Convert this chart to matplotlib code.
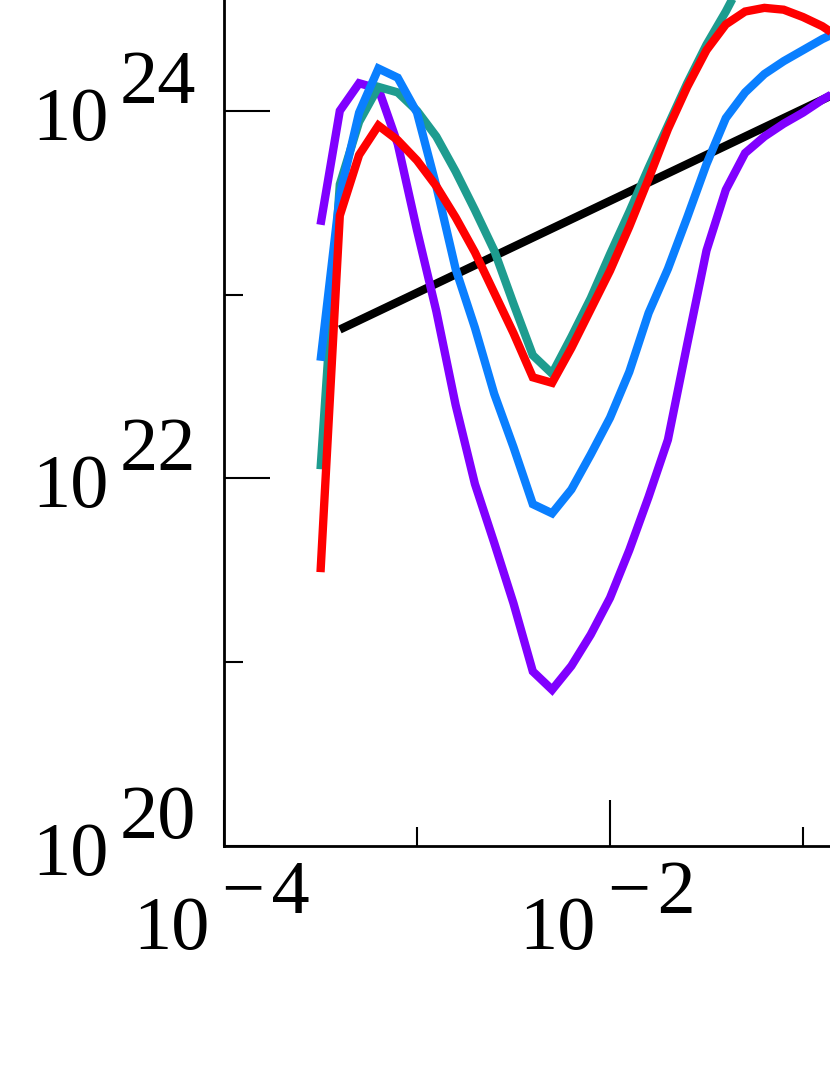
import numpy as np
import matplotlib.pyplot as plt

# -------------------------
# Datos (exponentes log10)
# -------------------------
log_x = [-3.5, -3.4, -3.3, -3.2, -3.1, -3.0, -2.9, -2.8, -2.7, -2.6,
         -2.5, -2.4, -2.3, -2.2, -2.1, -2.0, -1.9, -1.8, -1.7, -1.6,
         -1.5, -1.4, -1.3, -1.2, -1.1, -1.0, -0.9, -0.8]

purple_log_y = [23.38, 24.00, 24.15, 24.12, 23.82, 23.35, 22.91, 22.40, 21.97, 21.65,
                21.32, 20.95, 20.85, 20.98, 21.15, 21.35, 21.61, 21.90, 22.21, 22.73,
                23.24, 23.57, 23.77, 23.86, 23.93, 23.99, 24.06, 24.12]

blue_log_y = [22.64, 23.54, 23.99, 24.23, 24.18, 23.99, 23.59, 23.14, 22.82, 22.46,
              22.17, 21.86, 21.81, 21.94, 22.13, 22.33, 22.58, 22.90, 23.14, 23.42,
              23.71, 23.96, 24.10, 24.20, 24.27, 24.33, 24.39, 24.44]

teal_log_y = [22.05, 23.60, 23.94, 24.13, 24.10, 24.00, 23.86, 23.67, 23.46, 23.24,
              22.95, 22.67, 22.57, 22.77, 22.98, 23.22, 23.45, 23.69, 23.92, 24.15,
              24.36, 24.54, 24.74, 24.87, 24.96, 24.98, 24.98, 24.96]

red_log_y = [21.49, 23.43, 23.76, 23.92, 23.84, 23.73, 23.59, 23.42, 23.23, 23.01,
             22.79, 22.55, 22.52, 22.71, 22.92, 23.13, 23.37, 23.63, 23.90, 24.13,
             24.33, 24.47, 24.54, 24.56, 24.55, 24.51, 24.46, 24.39]

black_log_x = [-3.4, -0.5]
black_log_y = [22.81, 24.26]

x_ticks = [1e-4, 1e-2, 1e0]
x_minor = [1e-3, 1e-1]
x_label_vals = [1e-4, 1e-2]
x_exps = ["\u2212\u200a4", "\u2212\u200a2"]
y_ticks = [1e20, 1e22, 1e24]
y_minor = [1e21, 1e23, 1e25]
y_exps = ["20", "22", "24"]

plt.rcParams['font.family'] = ['Liberation Serif', 'DejaVu Serif']

# -------------------------
# Gráfico
# -------------------------
fig = plt.figure(figsize=(8.3, 10.75), dpi=100)
ax = fig.add_axes([0.2699, 0.2130, 0.9301, 1.0259])
ax.set_xscale('log')
ax.set_yscale('log')
ax.set_xlim(1e-4, 1e0)
ax.set_ylim(1e20, 1e26)

lw = 6.0
ax.plot(10.0 ** np.array(black_log_x), 10.0 ** np.array(black_log_y),
        color='black', lw=lw, solid_capstyle='butt')

x = 10.0 ** np.array(log_x)
curvas = [(purple_log_y, '#8000ff'), (teal_log_y, '#1e9c8f'),
          (blue_log_y, '#0a7fff'), (red_log_y, '#ff0000')]
for ys, c in curvas:
    ax.plot(x, 10.0 ** np.array(ys), color=c, lw=lw,
            solid_capstyle='butt', solid_joinstyle='miter')

ax.set_xticks(x_ticks)
ax.set_xticks(x_minor, minor=True)
ax.set_yticks(y_ticks)
ax.set_yticks(y_minor, minor=True)
ax.tick_params(which='both', direction='in', top=True, right=True,
               labelbottom=False, labelleft=False, width=1.5, color='black')
ax.tick_params(which='major', length=33)
ax.tick_params(which='minor', length=14)
for s in ax.spines.values():
    s.set_linewidth(2)

# etiquetas 10^n con el exponente del mismo tamaño, como en el original
fs = 55
for v, e in zip(x_label_vals, x_exps):
    ax.annotate("10", xy=(v, 0), xycoords=('data', 'axes fraction'),
                xytext=(-14, -103), textcoords='offset pixels',
                ha='right', va='baseline', fontsize=fs, annotation_clip=False)
    ax.annotate(e, xy=(v, 0), xycoords=('data', 'axes fraction'),
                xytext=(-2, -67), textcoords='offset pixels',
                ha='left', va='baseline', fontsize=fs, annotation_clip=False)

for v, e in zip(y_ticks, y_exps):
    ax.annotate("10", xy=(0, v), xycoords=('axes fraction', 'data'),
                xytext=(-115, -29), textcoords='offset pixels',
                ha='right', va='baseline', fontsize=fs, annotation_clip=False)
    ax.annotate(e, xy=(0, v), xycoords=('axes fraction', 'data'),
                xytext=(-28, 8), textcoords='offset pixels',
                ha='right', va='baseline', fontsize=fs, annotation_clip=False)

fig.savefig('out.png', dpi=100)
